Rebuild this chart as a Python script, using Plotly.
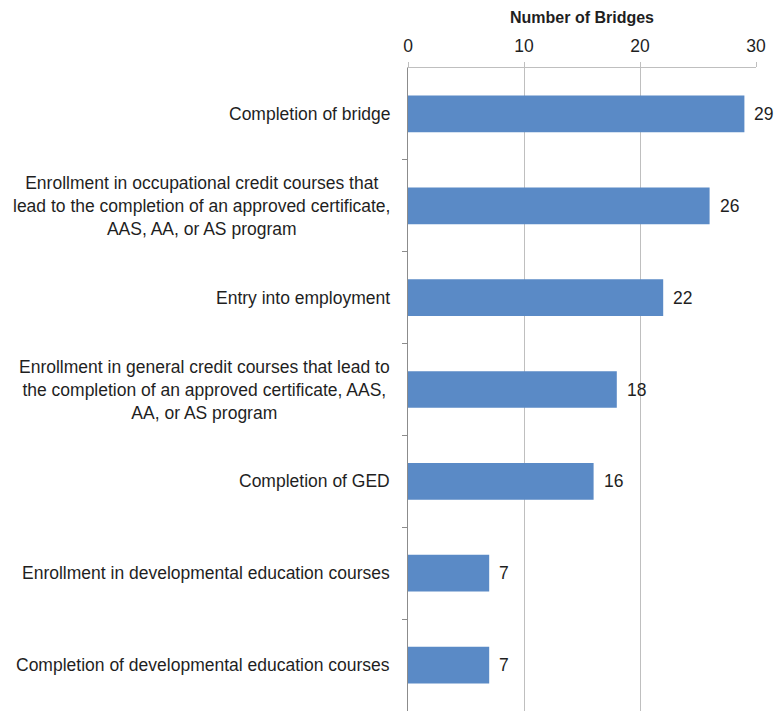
import plotly.graph_objects as go

categories = [
    "Completion of bridge",
    "Enrollment in occupational credit courses that<br>lead to the completion of an approved certificate,<br>AAS, AA, or AS program",
    "Entry into employment",
    "Enrollment in general credit courses that lead to<br>the completion of an approved certificate, AAS,<br>AA, or AS program",
    "Completion of GED",
    "Enrollment in developmental education courses",
    "Completion of developmental education courses",
]
values = [29, 26, 22, 18, 16, 7, 7]
x_ticks = [0, 10, 20, 30]

FONT = "Liberation Sans, Arial, sans-serif"
BAR = "#5A8AC6"
TXT = "#1F1F1F"

fig = go.Figure(
    go.Bar(
        x=values,
        y=list(range(len(categories))),
        orientation="h",
        width=0.4,
        marker=dict(color=BAR, line=dict(width=0)),
        hoverinfo="x",
    )
)

# Category labels as centred multi-line annotations left of the axis
for i, label in enumerate(categories):
    fig.add_annotation(
        x=0, xref="paper", y=i, yref="y",
        text=label, showarrow=False,
        xanchor="right", yanchor="middle", xshift=-16,
        align="center",
        font=dict(family=FONT, size=17.5, color=TXT),
    )

# Value labels just past the end of each bar
for i, v in enumerate(values):
    fig.add_annotation(
        x=v, xref="x", y=i, yref="y",
        text=str(v), showarrow=False,
        xanchor="left", yanchor="middle", xshift=8,
        font=dict(family=FONT, size=17.5, color=TXT),
    )

fig.update_layout(
    width=780, height=711,
    margin=dict(l=408, r=24, t=68, b=0),
    paper_bgcolor="white", plot_bgcolor="white",
    showlegend=False,
    xaxis=dict(
        side="top",
        range=[0, 30],
        tickvals=x_ticks,
        ticktext=[str(t) for t in x_ticks],
        tickfont=dict(family=FONT, size=17.5, color=TXT),
        ticklabelstandoff=3,
        showgrid=True, gridcolor="#BFBFBF", gridwidth=1,
        showline=True, linecolor="#BFBFBF", linewidth=1,
        ticks="outside", ticklen=5, tickcolor="#BFBFBF",
        zeroline=False,
        title=dict(text="<b>Number of Bridges</b>",
                   font=dict(family=FONT, size=16, color=TXT),
                   standoff=8),
        fixedrange=True,
    ),
    yaxis=dict(
        range=[len(categories) - 0.5, -0.5],
        tickvals=[i + 0.5 for i in range(len(categories) - 1)],
        showticklabels=False,
        ticks="outside", ticklen=5, tickcolor="#8C8C8C",
        showgrid=False,
        showline=True, linecolor="#8C8C8C", linewidth=1,
        zeroline=False,
        fixedrange=True,
    ),
)

fig.write_html("out.html")
